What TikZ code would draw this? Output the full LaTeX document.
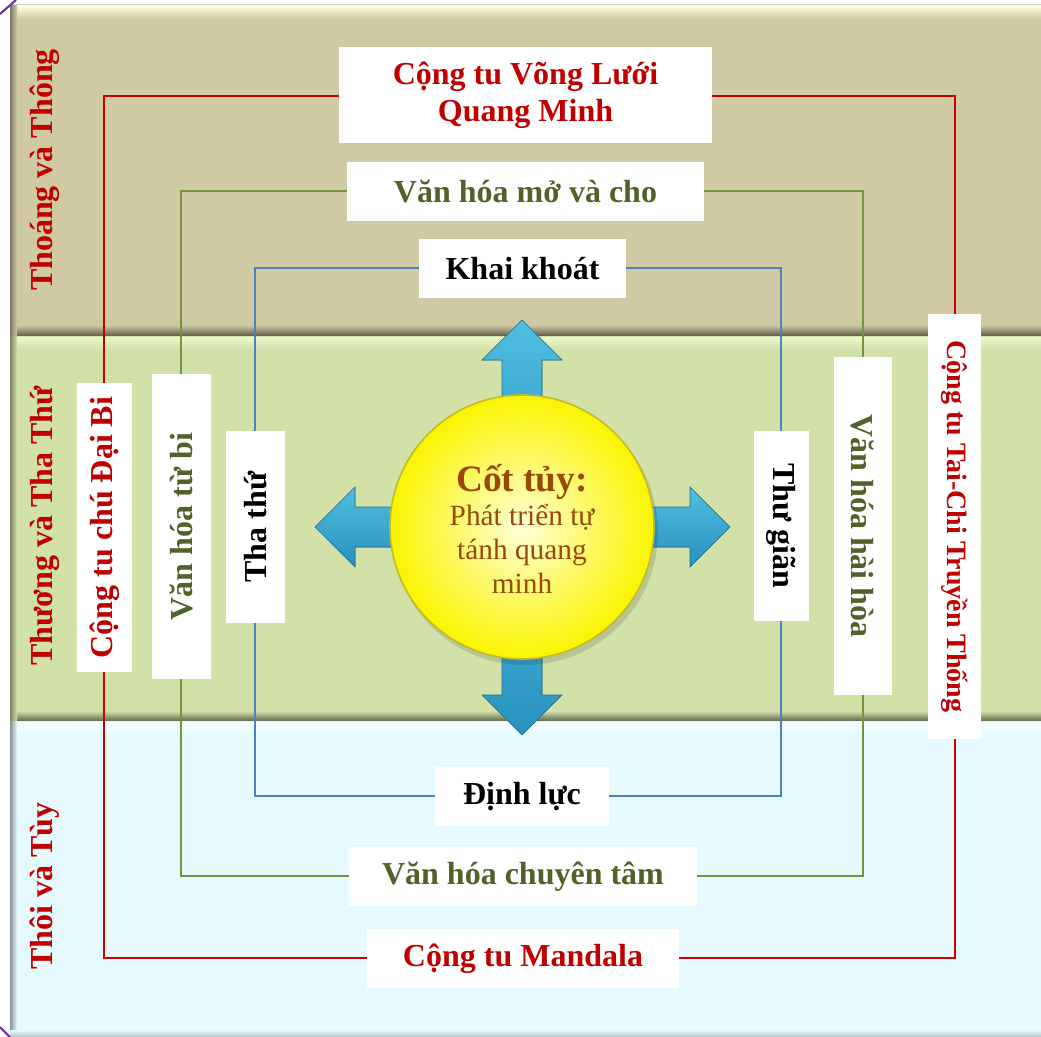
\documentclass[tikz,border=0pt]{standalone}
\usepackage{fontspec}
\setmainfont{Liberation Serif}

\definecolor{bandA}{RGB}{207,202,164}
\definecolor{bandAhi}{RGB}{255,253,222}
\definecolor{bandB}{RGB}{209,225,167}
\definecolor{bandBhi}{RGB}{236,248,204}
\definecolor{bandC}{RGB}{230,249,253}
\definecolor{bandChi}{RGB}{246,253,255}
\definecolor{redtxt}{RGB}{192,0,0}
\definecolor{greentxt}{RGB}{79,98,40}
\definecolor{redline}{RGB}{204,0,0}
\definecolor{greenline}{RGB}{119,147,60}
\definecolor{blueline}{RGB}{79,129,189}
\definecolor{browntxt}{RGB}{152,72,7}
\definecolor{arrowlight}{RGB}{80,190,225}
\definecolor{arrowdark}{RGB}{40,145,190}
\definecolor{arrowedge}{RGB}{30,110,150}
\definecolor{sunyellow}{RGB}{250,244,0}
\definecolor{sunglow}{RGB}{255,255,215}
\definecolor{sunrim}{RGB}{196,186,40}
\definecolor{markpurple}{RGB}{112,48,160}

\tikzset{
  big/.style={font=\fontsize{24}{28}\selectfont\bfseries},
  labelbox/.style={big, fill=white, inner sep=0pt, align=center},
  redbox/.style={labelbox, text=redtxt},
  greenbox/.style={labelbox, text=greentxt},
  blackbox/.style={labelbox, text=black},
  bandtitle/.style={big, text=redtxt, rotate=90, inner sep=0pt},
  redframe/.style={draw=redline, line width=1.7pt},
  greenframe/.style={draw=greenline, line width=1.5pt},
  blueframe/.style={draw=blueline, line width=1.4pt},
  arrowshape/.style={top color=arrowlight, bottom color=arrowdark, draw=arrowedge, line width=0.5pt},
}

\begin{document}
\begin{tikzpicture}[x=0.75pt, y=-0.75pt]
\useasboundingbox (0,0) rectangle (1041,1037);
\fill[white] (0,0) rectangle (1041,1037);

% ---- three horizontal bands with bevelled edges ----
% band 1
\fill[bandA] (10,5) rectangle (1045,336);
\shade[top color=bandAhi, bottom color=bandA] (10,6) rectangle (1045,19);
\shade[top color=bandA, bottom color=bandA!45!black] (10,325) rectangle (1045,336);
\shade[left color=bandA!60!black, right color=bandA] (10,5) rectangle (17,336);
\draw[gray!35, line width=1pt] (10,4.5) -- (1045,4.5);
% band 2
\fill[bandB] (10,336) rectangle (1045,721);
\shade[top color=bandBhi, bottom color=bandB] (10,337) rectangle (1045,350);
\shade[top color=bandB, bottom color=bandB!45!black] (10,711) rectangle (1045,721);
\shade[left color=bandB!60!black, right color=bandB] (10,336) rectangle (17,721);
% band 3
\fill[bandC] (10,721) rectangle (1045,1040);
\shade[top color=bandChi, bottom color=bandC] (10,722) rectangle (1045,734);
\shade[left color=bandC!60!black, right color=bandC] (10,721) rectangle (17,1040);
\shade[top color=bandC, bottom color=bandC!70!black] (10,1030) rectangle (1045,1040);

% corner marks
\draw[markpurple, line width=1.6pt] (0,14) -- (16,0);
\draw[markpurple, line width=1.6pt] (0,1027) -- (10,1037);

% ---- band titles ----
\node[bandtitle] (tA) at (45,170) {Thoáng và Thông};
\node[bandtitle] (tB) at (45,526) {Thương và Tha Thứ};
\node[bandtitle] (tC) at (45,886) {Thôi và Tùy};

% ---- frame corners ----
\coordinate (rTL) at (104,96);  \coordinate (rTR) at (955,96);
\coordinate (rBR) at (955,958); \coordinate (rBL) at (104,958);
\coordinate (gTL) at (181,191); \coordinate (gTR) at (863,191);
\coordinate (gBR) at (863,876); \coordinate (gBL) at (181,876);
\coordinate (bTL) at (255,268); \coordinate (bTR) at (781,268);
\coordinate (bBR) at (781,796); \coordinate (bBL) at (255,796);

\draw[redframe]   (rTL) -- (rTR) -- (rBR) -- (rBL) -- cycle;
\draw[greenframe] (gTL) -- (gTR) -- (gBR) -- (gBL) -- cycle;
\draw[blueframe]  (bTL) -- (bTR) -- (bBR) -- (bBL) -- cycle;

% ---- labels on the frames ----
\node[redbox, minimum width=279.75pt, minimum height=72pt] (redTop) at (525.5,95)
  {Cộng tu Võng Lưới\\Quang Minh};
\node[greenbox, minimum width=267.75pt, minimum height=44.25pt] (greenTop) at (525.5,191.5)
  {Văn hóa mở và cho};
\node[blackbox, minimum width=155.25pt, minimum height=44.25pt] (blueTop) at (522.5,268.5)
  {Khai khoát};
\node[blackbox, minimum width=130.5pt, minimum height=44.25pt] (blueBot) at (522,796.5)
  {Định lực};
\node[greenbox, minimum width=261pt, minimum height=44.25pt] (greenBot) at (523,876.5)
  {Văn hóa chuyên tâm};
\node[redbox, minimum width=234pt, minimum height=44.25pt] (redBot) at (523,958.5)
  {Cộng tu Mandala};

\node[redbox, rotate=90, minimum width=216.75pt, minimum height=41.25pt] (redLeft) at (104.5,527.5)
  {Cộng tu chú Đại Bi};
\node[greenbox, rotate=90, minimum width=228.75pt, minimum height=44.25pt] (greenLeft) at (181.5,526.5)
  {Văn hóa từ bi};
\node[blackbox, rotate=90, minimum width=144pt, minimum height=44.25pt] (blueLeft) at (255.5,527)
  {Tha thứ};
\node[blackbox, rotate=-90, minimum width=142.5pt, minimum height=41.25pt] (blueRight) at (781.5,526)
  {Thư giãn};
\node[greenbox, rotate=-90, minimum width=253.5pt, minimum height=43.5pt] (greenRight) at (863,526)
  {Văn hóa hài hòa};
\node[redbox, rotate=-90, minimum width=318.75pt, minimum height=39.75pt,
      font=\fontsize{21}{25}\selectfont\bfseries] (redRight) at (954.5,526.5)
  {Cộng tu Tai-Chi Truyền Thống};

% ---- four arrows from the core ----
\coordinate (core0) at (522,527);
\fill[arrowshape] (502,527) -- (502,360) -- (482,360) -- (522,320) -- (562,360) -- (542,360) -- (542,527) -- cycle;
\fill[arrowshape] (502,527) -- (502,695) -- (482,695) -- (522,735) -- (562,695) -- (542,695) -- (542,527) -- cycle;
\fill[arrowshape] (522,507) -- (355,507) -- (355,487) -- (315,527) -- (355,567) -- (355,547) -- (522,547) -- cycle;
\fill[arrowshape] (522,507) -- (690,507) -- (690,487) -- (730,527) -- (690,567) -- (690,547) -- (522,547) -- cycle;

% ---- core circle ----
\fill[black, opacity=0.12] (525,532) circle (133);
\shade[inner color=sunglow, outer color=sunyellow] (522,527) circle (132);
\draw[sunrim, line width=1.2pt] (522,527) circle (132);
\node[circle, minimum size=198pt, inner sep=0pt, align=center, text=browntxt,
      font=\fontsize{22}{25.5}\selectfont] (core) at (522,529)
  {{\fontsize{28}{30}\selectfont\bfseries Cốt tủy:}\\
   Phát triển tự\\
   tánh quang\\
   minh};
\end{tikzpicture}
\end{document}
